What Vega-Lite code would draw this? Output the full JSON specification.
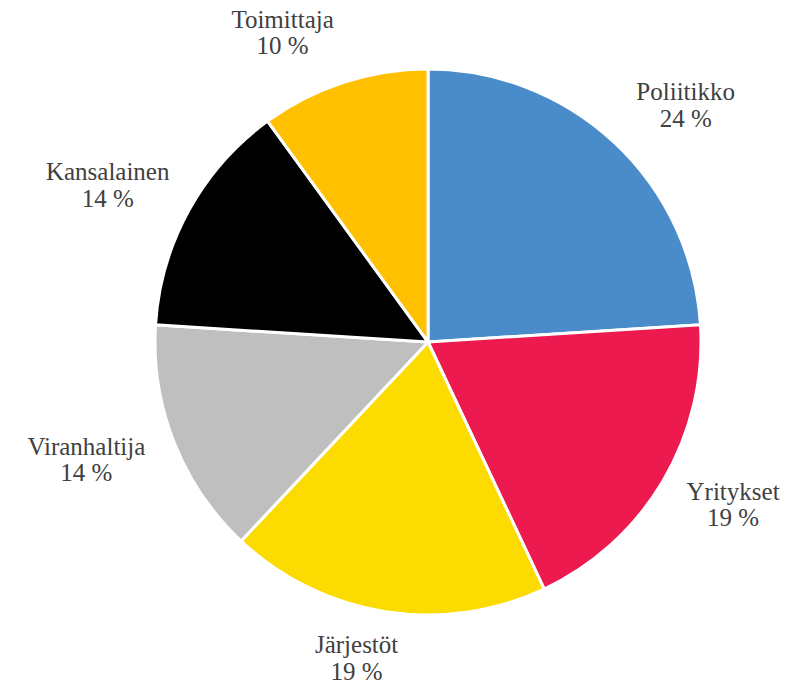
{
  "$schema": "https://vega.github.io/schema/vega-lite/v6.json",
  "width": 787,
  "height": 681,
  "padding": 0,
  "autosize": "none",
  "background": "white",
  "config": {
    "view": {"stroke": null},
    "locale": {"number": {"decimal": ",", "thousands": "\u00a0", "grouping": [3], "currency": ["", "\u00a0€"], "percent": "\u00a0%"}}
  },
  "data": {
    "values": [
      {"rank": 1, "role": "Poliitikko", "share": 0.24},
      {"rank": 2, "role": "Yritykset", "share": 0.19},
      {"rank": 3, "role": "Järjestöt", "share": 0.19},
      {"rank": 4, "role": "Viranhaltija", "share": 0.14},
      {"rank": 5, "role": "Kansalainen", "share": 0.14},
      {"rank": 6, "role": "Toimittaja", "share": 0.10}
    ]
  },
  "encoding": {
    "theta": {"field": "share", "type": "quantitative", "stack": true},
    "order": {"field": "rank", "type": "quantitative"}
  },
  "layer": [
    {
      "mark": {"type": "arc", "outerRadius": 273, "x": 428, "y": 342, "stroke": "white", "strokeWidth": 3},
      "encoding": {
        "color": {
          "field": "role",
          "type": "nominal",
          "scale": {
            "domain": ["Poliitikko", "Yritykset", "Järjestöt", "Viranhaltija", "Kansalainen", "Toimittaja"],
            "range": ["#4A8CCA", "#EC1A4E", "#FCDC00", "#BFBFBF", "#000000", "#FFC000"]
          },
          "legend": null
        }
      }
    },
    {
      "mark": {
        "type": "text", "radius": 285, "x": 428, "y": 342, "baseline": "alphabetic", "align": "center",
        "dx": {"expr": "5.3*length(datum.role)*clamp(3.3*sin(PI*(datum.share_start+datum.share_end)),-1,1)+14*sin(PI*(datum.share_start+datum.share_end))"},
        "dy": {"expr": "-(cos(PI*(datum.share_start+datum.share_end))>0?40:35)*cos(PI*(datum.share_start+datum.share_end))-5"},
        "font": "Liberation Serif", "fontSize": 25, "fill": "#404040"
      },
      "encoding": {"text": {"field": "role", "type": "nominal"}}
    },
    {
      "mark": {
        "type": "text", "radius": 285, "x": 428, "y": 342, "baseline": "alphabetic", "align": "center",
        "dx": {"expr": "5.3*length(datum.role)*clamp(3.3*sin(PI*(datum.share_start+datum.share_end)),-1,1)+14*sin(PI*(datum.share_start+datum.share_end))"},
        "dy": {"expr": "-(cos(PI*(datum.share_start+datum.share_end))>0?40:35)*cos(PI*(datum.share_start+datum.share_end))+21.5"},
        "font": "Liberation Serif", "fontSize": 25, "fill": "#404040"
      },
      "encoding": {"text": {"field": "share", "type": "quantitative", "format": ".0%"}}
    }
  ]
}
